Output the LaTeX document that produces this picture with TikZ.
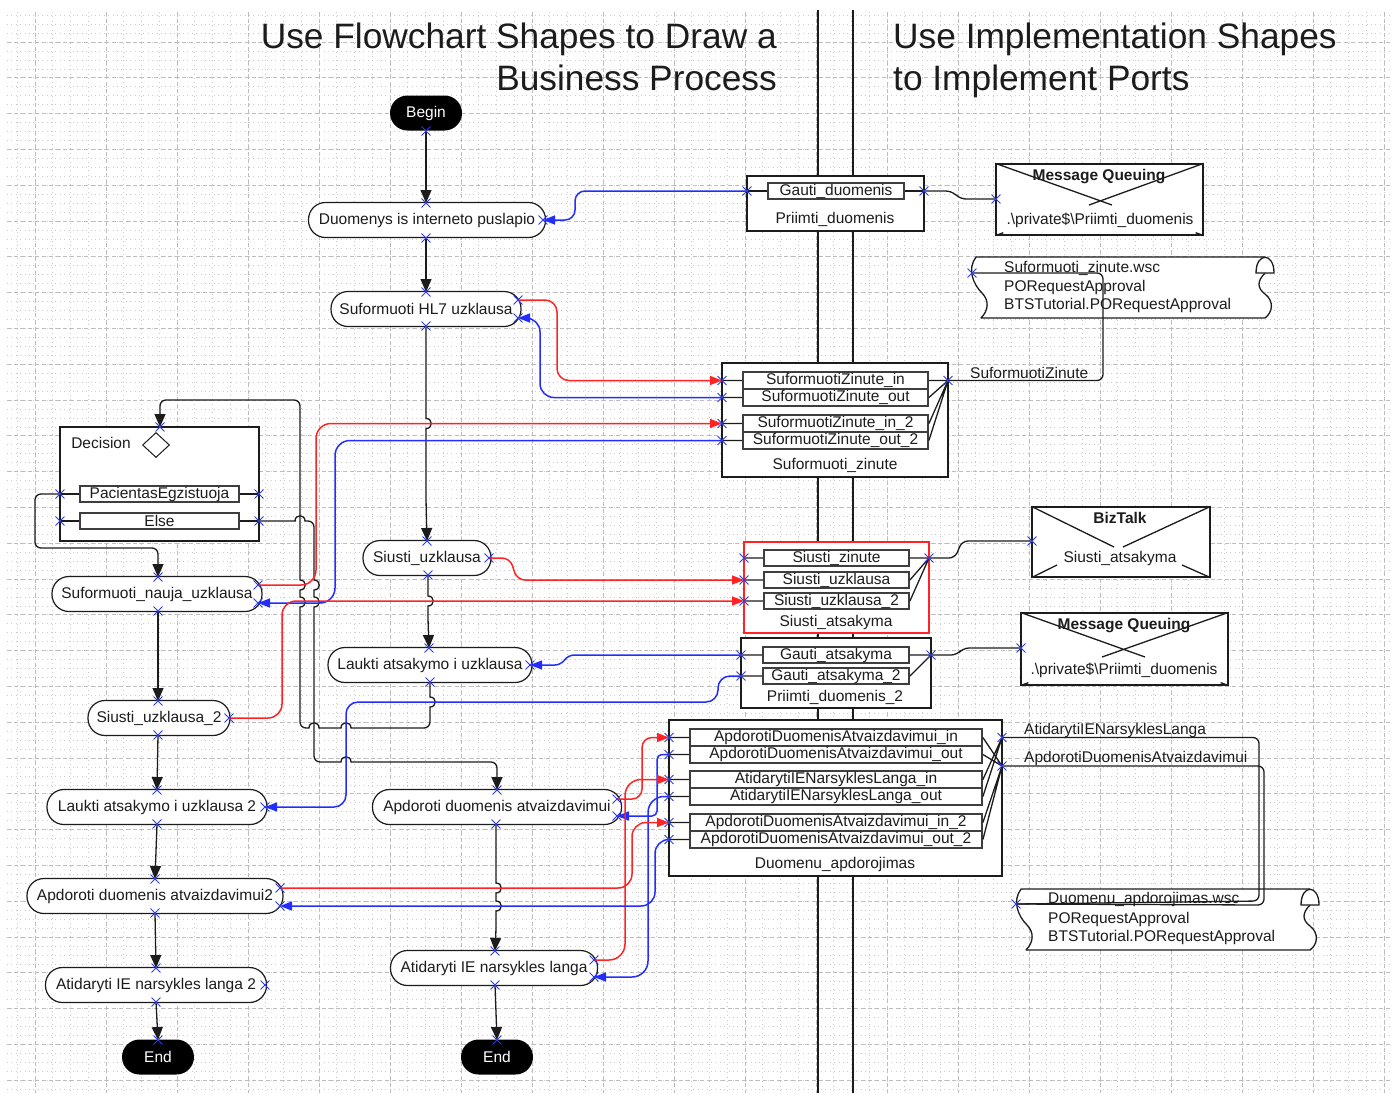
\documentclass[tikz,border=0pt]{standalone}
\usepackage{fontspec}
\setmainfont{Liberation Sans}
\usetikzlibrary{arrows.meta,shapes.misc,shapes.geometric}
\pgfdeclarelayer{bg}
\pgfdeclarelayer{fg}
\pgfsetlayers{bg,main,fg}

\definecolor{cred}{RGB}{255,35,35}
\definecolor{cblue}{RGB}{35,45,255}
\definecolor{pmark}{RGB}{45,60,230}
\definecolor{ink}{RGB}{28,28,28}

\newcommand\dfont{\fontsize{15.5}{18}\selectfont}
\newcommand\tfont{\fontsize{35.3}{42}\selectfont}

% small line jumps where connectors cross
\newcommand\hopdn[2]{[sharp corners] -- (#1,#2-5) .. controls (#1+7,#2-5) and (#1+7,#2+5) .. (#1,#2+5) [rounded corners=6pt]}
\newcommand\hopup[2]{[sharp corners] -- (#1,#2+5) .. controls (#1+7,#2+5) and (#1+7,#2-5) .. (#1,#2-5) [rounded corners=6pt]}
\newcommand\hopr[2]{[sharp corners] -- (#1-5,#2) .. controls (#1-5,#2-7) and (#1+5,#2-7) .. (#1+5,#2) [rounded corners=6pt]}
\newcommand\hopl[2]{[sharp corners] -- (#1+5,#2) .. controls (#1+5,#2-7) and (#1-5,#2-7) .. (#1-5,#2) [rounded corners=6pt]}

\tikzset{
  flow/.style={draw=ink, line width=1.2pt, fill=white, rounded corners=17pt, minimum height=35pt, inner sep=0pt, font=\dfont, text=ink},
  term/.style={fill=black, rounded corners=17.5pt, minimum width=72pt, minimum height=35pt, inner sep=0pt, font=\dfont, text=white},
  ibox/.style={draw=ink, line width=1.3pt, fill=white, inner sep=0pt},
  irow/.style={draw=ink!85, line width=1.8pt, fill=white, minimum height=16pt, inner sep=0pt, font=\dfont, text=ink},
  lbl/.style={font=\dfont, text=ink, inner sep=0pt},
  blbl/.style={font=\dfont\bfseries, text=ink, inner sep=0pt},
  portx/.style={cross out, draw=pmark, minimum size=8pt, inner sep=0pt, line width=0.9pt},
  flowline/.style={draw=ink, line width=1.3pt, rounded corners=6pt},
  stub/.style={draw=ink, line width=1.3pt},
  arrowk/.style={-{Triangle[length=13pt,width=11pt]}},
  carrow/.style={-{Triangle[length=12pt,width=9pt]}},
  redline/.style={draw=cred, line width=1.5pt},
  blueline/.style={draw=cblue, line width=1.5pt},
  title/.style={font=\tfont, text=ink, inner sep=0pt},
  lane/.style={draw=ink, line width=2pt},
  gmajor/.style={draw=black!26, line width=0.7pt, dash pattern=on 4pt off 3pt},
  gminor/.style={draw=black!20, line width=0.7pt, dash pattern=on 0.8pt off 3.6pt},
  tape/.pic={
    \fill[white] (0,0) -- (289,0) -- (289,16) .. controls (281,24) and (281,31) .. (289,37)
      .. controls (298,44) and (297,55) .. (289,61) -- (5,61) .. controls (13,53) and (13,43) .. (6,36)
      .. controls (-3,27) and (-9,12) .. (0,0) -- cycle;
    \draw[draw=ink, line width=1.3pt, line join=round] (289,16) .. controls (281,24) and (281,31) .. (289,37)
      .. controls (298,44) and (297,55) .. (289,61) -- (5,61) .. controls (13,53) and (13,43) .. (6,36)
      .. controls (-3,27) and (-9,12) .. (0,0) -- (289,0);
    \draw[draw=ink, line width=1.3pt, fill=white] (280,16) .. controls (280,-5) and (298,-5) .. (298,16) -- cycle;
  }
}

\begin{document}
\begin{tikzpicture}[x=1pt, y=-1pt]
\useasboundingbox (0,0) rectangle (1396,1093);

% ---------- drawing sheet: grid and lane separators ----------
\begin{pgfonlayer}{bg}
  \fill[white] (0,0) rectangle (1396,1093);
  \foreach \k in {-1,...,76} \draw[gminor] ({35+17.75*\k},12) -- ({35+17.75*\k},1093);
  \foreach \k in {-3,...,117} \draw[gminor] (7,{42+8.95*\k}) -- (1390,{42+8.95*\k});
  \foreach \k in {0,...,19} \draw[gmajor] ({35+71*\k},12) -- ({35+71*\k},1093);
  \foreach \k in {0,...,29} \draw[gmajor] (7,{42+35.8*\k}) -- (1390,{42+35.8*\k});
  \draw[lane] (818,10) -- (818,1093);
  \draw[lane] (853,10) -- (853,1093);
\end{pgfonlayer}

% ---------- headings ----------
\node[title, anchor=base east] (ttl1a) at (777,48) {Use Flowchart Shapes to Draw a};
\node[title, anchor=base east] (ttl1b) at (777,90) {Business Process};
\node[title, anchor=base west] (ttl2a) at (893,48) {Use Implementation Shapes};
\node[title, anchor=base west] (ttl2b) at (893,90) {to Implement Ports};

% ---------- business process shapes ----------
\node[term] (begin) at (426,113) {Begin};
\node[flow, minimum width=237pt] (duom) at (427,220) {Duomenys is interneto puslapio};
\node[flow, minimum width=190pt] (hl7) at (426,309) {Suformuoti HL7 uzklausa};
\node[flow, minimum width=128pt] (siu) at (427,558) {Siusti\_uzklausa};
\node[flow, minimum width=204pt] (lauk) at (430,665) {Laukti atsakymo i uzklausa};
\node[flow, minimum width=249pt] (apd) at (497,807) {Apdoroti duomenis atvaizdavimui};
\node[flow, minimum width=207pt] (atid) at (494,968) {Atidaryti IE narsykles langa};
\node[term] (endb) at (497,1057) {End};

\node[flow, minimum width=210pt] (nauj) at (157,594) {Suformuoti\_nauja\_uzklausa};
\node[flow, minimum width=142pt] (siu2) at (159,718) {Siusti\_uzklausa\_2};
\node[flow, minimum width=220pt] (lauk2) at (157,807) {Laukti atsakymo i uzklausa 2};
\node[flow, minimum width=256pt] (apd2) at (155,896) {Apdoroti duomenis atvaizdavimui2};
\node[flow, minimum width=221pt] (atid2) at (156,985) {Atidaryti IE narsykles langa 2};
\node[term] (enda) at (158,1057) {End};

% decision block
\node[ibox, minimum width=199pt, minimum height=114pt] (dec) at (159.5,484) {};
\node[lbl] (dect) at (101,443) {Decision};
\node[diamond, draw=ink, line width=1pt, minimum width=27pt, minimum height=25pt, inner sep=0pt, fill=white] (decd) at (156,445) {};
\node[irow, minimum width=159pt] (pac) at (159.5,494) {PacientasEgzistuoja};
\node[irow, minimum width=159pt] (els) at (159.5,521) {Else};

% ---------- port implementation shapes ----------
\node[ibox, minimum width=177pt, minimum height=55pt] (prd) at (835.5,203.5) {};
\node[irow, minimum width=136pt] (gd) at (836,191) {Gauti\_duomenis};
\node[lbl] (prdl) at (835,219) {Priimti\_duomenis};

\node[ibox, minimum width=207pt, minimum height=71pt] (mq1) at (1099.5,199.5) {};
\draw[stub] (mq1.north west) -- (1112,205) (mq1.north east) -- (1089,205)
  (mq1.south west) -- ++(8,-3) (mq1.south east) -- ++(-8,-3);
\node[blbl] (mq1t) at (1099,177) {Message Queuing};
\node[lbl] (mq1s) at (1100,220) {.\textbackslash private\$\textbackslash Priimti\_duomenis};

\pic (ws1) at (976,257) {tape};
\node[lbl, anchor=west] (ws1a) at (1004,268) {Suformuoti\_zinute.wsc};
\node[lbl, anchor=west] (ws1b) at (1004,287) {PORequestApproval};
\node[lbl, anchor=west] (ws1c) at (1004,305) {BTSTutorial.PORequestApproval};

\node[ibox, minimum width=226pt, minimum height=114pt] (sz) at (835,420) {};
\node[irow, minimum width=185pt, minimum height=17pt] (sz1) at (835.5,380.5) {SuformuotiZinute\_in};
\node[irow, minimum width=185pt, minimum height=17pt] (sz2) at (835.5,397.5) {SuformuotiZinute\_out};
\node[irow, minimum width=185pt, minimum height=17pt] (sz3) at (835.5,423.5) {SuformuotiZinute\_in\_2};
\node[irow, minimum width=185pt, minimum height=17pt] (sz4) at (835.5,440.5) {SuformuotiZinute\_out\_2};
\node[lbl] (szl) at (835,465) {Suformuoti\_zinute};

\node[ibox, draw=cred, minimum width=185pt, minimum height=91pt] (sa) at (836.5,587.5) {};
\node[irow, minimum width=145pt] (sa1) at (836.5,558) {Siusti\_zinute};
\node[irow, minimum width=145pt] (sa2) at (836.5,580) {Siusti\_uzklausa};
\node[irow, minimum width=145pt] (sa3) at (836.5,601) {Siusti\_uzklausa\_2};
\node[lbl] (sal) at (836,622) {Siusti\_atsakyma};

\node[ibox, minimum width=178pt, minimum height=70pt] (biz) at (1121,542) {};
\draw[stub] (biz.north west) -- (1114,547) (biz.north east) -- (1123,547)
  (biz.south west) -- (1057,565) (biz.south east) -- (1182,565);
\node[blbl] (bizt) at (1120,518) {BizTalk};
\node[lbl] (bizs) at (1120,558) {Siusti\_atsakyma};

\node[ibox, minimum width=190pt, minimum height=70pt] (pd) at (836,673) {};
\node[irow, minimum width=146pt] (pd1) at (836,655) {Gauti\_atsakyma};
\node[irow, minimum width=146pt] (pd2) at (836,676) {Gauti\_atsakyma\_2};
\node[lbl] (pdl) at (835,697) {Priimti\_duomenis\_2};

\node[ibox, minimum width=207pt, minimum height=72pt] (mq2) at (1124.5,649) {};
\draw[stub] (mq2.north west) -- (1145,657) (mq2.north east) -- (1102,657)
  (mq2.south west) -- ++(8,-3) (mq2.south east) -- ++(-8,-3);
\node[blbl] (mq2t) at (1124,626) {Message Queuing};
\node[lbl] (mq2s) at (1124,670) {.\textbackslash private\$\textbackslash Priimti\_duomenis};

\node[ibox, minimum width=333pt, minimum height=156pt] (da) at (835.5,798) {};
\node[irow, minimum width=292pt, minimum height=17pt] (da1) at (836,737.5) {ApdorotiDuomenisAtvaizdavimui\_in};
\node[irow, minimum width=292pt, minimum height=17pt] (da2) at (836,754.5) {ApdorotiDuomenisAtvaizdavimui\_out};
\node[irow, minimum width=292pt, minimum height=17pt] (da3) at (836,779.5) {AtidarytiIENarsyklesLanga\_in};
\node[irow, minimum width=292pt, minimum height=17pt] (da4) at (836,796.5) {AtidarytiIENarsyklesLanga\_out};
\node[irow, minimum width=292pt, minimum height=17pt] (da5) at (836,822.5) {ApdorotiDuomenisAtvaizdavimui\_in\_2};
\node[irow, minimum width=292pt, minimum height=17pt] (da6) at (836,839.5) {ApdorotiDuomenisAtvaizdavimui\_out\_2};
\node[lbl] (dal) at (835,864) {Duomenu\_apdorojimas};

\pic (ws2) at (1021,889) {tape};
\node[lbl, anchor=west] (ws2a) at (1048,899) {Duomenu\_apdorojimas.wsc};
\node[lbl, anchor=west] (ws2b) at (1048,919) {PORequestApproval};
\node[lbl, anchor=west] (ws2c) at (1048,937) {BTSTutorial.PORequestApproval};

% connector names
\node[lbl, anchor=west] (lsz) at (970,373) {SuformuotiZinute};
\node[lbl, anchor=west] (lat) at (1024,730) {AtidarytiIENarsyklesLanga};
\node[lbl, anchor=west] (lap) at (1024,758) {ApdorotiDuomenisAtvaizdavimui};

% ---------- connection points ----------
\begin{pgfonlayer}{fg}
  \node[portx] (begin-b) at (426,131) {};
  \node[portx] (duom-t) at (426,203) {};
  \node[portx] (duom-b) at (426,238) {};
  \node[portx] (duom-r) at (543,220) {};
  \node[portx] (hl7-t) at (426,292) {};
  \node[portx] (hl7-b) at (426,326) {};
  \node[portx] (hl7-rt) at (518,300) {};
  \node[portx] (hl7-rb) at (518,318) {};
  \node[portx] (siu-t) at (427,541) {};
  \node[portx] (siu-b) at (428,575) {};
  \node[portx] (siu-r) at (489,558) {};
  \node[portx] (lauk-t) at (429,648) {};
  \node[portx] (lauk-b) at (430,682) {};
  \node[portx] (lauk-r) at (530,665) {};
  \node[portx] (apd-t) at (497,790) {};
  \node[portx] (apd-b) at (496,824) {};
  \node[portx] (apd-rt) at (617,799) {};
  \node[portx] (apd-rb) at (617,816) {};
  \node[portx] (atid-t) at (495,951) {};
  \node[portx] (atid-b) at (495,985) {};
  \node[portx] (atid-rt) at (594,960) {};
  \node[portx] (atid-rb) at (594,977) {};
  \node[portx] (endb-t) at (497,1040) {};
  \node[portx] (nauj-t) at (158,577) {};
  \node[portx] (nauj-b) at (158,611) {};
  \node[portx] (nauj-rt) at (258,585) {};
  \node[portx] (nauj-rb) at (258,603) {};
  \node[portx] (siu2-t) at (158,701) {};
  \node[portx] (siu2-b) at (158,735) {};
  \node[portx] (siu2-r) at (229,718) {};
  \node[portx] (lauk2-t) at (157,790) {};
  \node[portx] (lauk2-b) at (157,824) {};
  \node[portx] (lauk2-r) at (265,807) {};
  \node[portx] (apd2-t) at (155,879) {};
  \node[portx] (apd2-b) at (155,913) {};
  \node[portx] (apd2-rt) at (280,888) {};
  \node[portx] (apd2-rb) at (280,906) {};
  \node[portx] (atid2-t) at (156,968) {};
  \node[portx] (atid2-b) at (156,1002) {};
  \node[portx] (atid2-r) at (265,985) {};
  \node[portx] (enda-t) at (158,1040) {};
  \node[portx] (dec-t) at (160,427) {};
  \node[portx] (pac-l) at (60,494) {};
  \node[portx] (pac-r) at (259,494) {};
  \node[portx] (els-l) at (60,521) {};
  \node[portx] (els-r) at (259,521) {};
  \node[portx] (prd-l) at (747,191) {};
  \node[portx] (prd-r) at (924,191) {};
  \node[portx] (mq1-p) at (996,199) {};
  \node[portx] (ws1-p) at (972,273) {};
  \node[portx] (sz-l1) at (722,380.5) {};
  \node[portx] (sz-l2) at (722,397.5) {};
  \node[portx] (sz-l3) at (722,423.5) {};
  \node[portx] (sz-l4) at (722,440.5) {};
  \node[portx] (sz-r) at (948,380.5) {};
  \node[portx] (sa-l1) at (744,558) {};
  \node[portx] (sa-l2) at (744,580) {};
  \node[portx] (sa-l3) at (744,601) {};
  \node[portx] (sa-r) at (929,558) {};
  \node[portx] (biz-p) at (1032,541) {};
  \node[portx] (pd-l1) at (741,655) {};
  \node[portx] (pd-l2) at (741,676) {};
  \node[portx] (pd-r) at (931,655) {};
  \node[portx] (mq2-p) at (1021,648) {};
  \node[portx] (da-l1) at (669,737.5) {};
  \node[portx] (da-l2) at (669,754.5) {};
  \node[portx] (da-l3) at (669,779.5) {};
  \node[portx] (da-l4) at (669,796.5) {};
  \node[portx] (da-l5) at (669,822.5) {};
  \node[portx] (da-l6) at (669,839.5) {};
  \node[portx] (da-r1) at (1002,737.5) {};
  \node[portx] (da-r2) at (1002,766) {};
  \node[portx] (ws2-p) at (1016,904) {};
\end{pgfonlayer}

% ---------- stubs from ports to operations ----------
\draw[stub] (pac-l.center) -- (pac.west) (pac.east) -- (pac-r.center)
  (els-l.center) -- (els.west) (els.east) -- (els-r.center);
\draw[stub] (prd-l.center) -- (gd.west) (gd.east) -- (prd-r.center);
\draw[stub] (sz-l1.center) -- (sz1.west) (sz-l2.center) -- (sz2.west)
  (sz-l3.center) -- (sz3.west) (sz-l4.center) -- (sz4.west)
  (sz1.east) -- (sz-r.center) (sz2.east) -- (sz-r.center)
  (sz3.east) -- (sz-r.center) (sz4.east) -- (sz-r.center);
\draw[stub] (sa-l1.center) -- (sa1.west) (sa-l2.center) -- (sa2.west) (sa-l3.center) -- (sa3.west)
  (sa1.east) -- (sa-r.center) (sa2.east) -- (sa-r.center) (sa3.east) -- (sa-r.center);
\draw[stub] (pd-l1.center) -- (pd1.west) (pd-l2.center) -- (pd2.west)
  (pd1.east) -- (pd-r.center) (pd2.east) -- (pd-r.center);
\draw[stub] (da-l1.center) -- (da1.west) (da-l2.center) -- (da2.west) (da-l3.center) -- (da3.west)
  (da-l4.center) -- (da4.west) (da-l5.center) -- (da5.west) (da-l6.center) -- (da6.west)
  (da1.east) -- (da-r2.center) (da2.east) -- (da-r2.center)
  (da3.east) -- (da-r1.center) (da4.east) -- (da-r1.center)
  (da5.east) -- (da-r2.center) (da6.east) -- (da-r2.center);

% ---------- process flow ----------
\draw[flowline, arrowk] (begin-b.center) -- (duom-t.center);
\draw[flowline, arrowk] (duom-b.center) -- (hl7-t.center);
\draw[flowline, arrowk] (hl7-b.center) -- (426,400) \hopdn{426}{423.5} -- (426,500) -- (siu-t.center);
\draw[flowline, arrowk] (siu-b.center) -- (428,590) \hopdn{428}{601} -- (428,620) -- (lauk-t.center);
\draw[flowline, arrowk] (lauk-b.center) -- (430,690) \hopdn{430}{702} -- (430,728) -- (370,728)
  \hopl{346}{728} -- (330,728) \hopl{314}{728} -- (300,728) -- (300,640) \hopup{300}{602} \hopup{300}{585}
  -- (300,560) -- (300,400) -- (160,400) -- (dec-t.center);
\draw[flowline, arrowk] (els-r.center) -- (290,521) \hopr{300}{521} -- (314,521) -- (314,560)
  \hopdn{314}{585} \hopdn{314}{602} -- (314,762) -- (330,762) \hopr{346}{762} -- (370,762) -- (497,762) -- (apd-t.center);
\draw[flowline, arrowk] (pac-l.center) -- (35,494) -- (35,548) -- (158,548) -- (nauj-t.center);
\draw[flowline, arrowk] (nauj-b.center) -- (siu2-t.center);
\draw[flowline, arrowk] (siu2-b.center) -- (lauk2-t.center);
\draw[flowline, arrowk] (lauk2-b.center) -- (apd2-t.center);
\draw[flowline, arrowk] (apd2-b.center) -- (atid2-t.center);
\draw[flowline, arrowk] (atid2-b.center) -- (enda-t.center);
\draw[flowline, arrowk] (apd-b.center) -- (496,870) \hopdn{496}{888} \hopdn{496}{906} -- (496,930) -- (atid-t.center);
\draw[flowline, arrowk] (atid-b.center) -- (endb-t.center);

% ---------- port bindings ----------
\draw[flowline] (prd-r.center) -- (952,191) -- (960,199) -- (mq1-p.center);
\draw[flowline] (sz-r.center) -- (1103,380.5) -- (1103,273) -- (ws1-p.center);
\draw[flowline] (sa-r.center) -- (955,558) -- (962,541) -- (biz-p.center);
\draw[flowline] (pd-r.center) -- (957,655) -- (963,648) -- (mq2-p.center);
\draw[flowline] (da-r1.center) -- (1259,737.5) -- (1259,901) -- (ws2-p.center);
\draw[flowline] (da-r2.center) -- (1264,766) -- (1264,905) -- (ws2-p.center);

% ---------- message flows ----------
\draw[blueline, rounded corners=10pt, carrow] (prd-l.center) -- (575,191) -- (575,220) -- (duom-r.center);
\draw[redline, rounded corners=12pt, carrow] (hl7-rt.center) -- (557,300) -- (557,380.5) -- (sz-l1.center);
\draw[blueline, rounded corners=14pt, carrow] (sz-l2.center) -- (540,397.5) -- (540,318) -- (hl7-rb.center);
\draw[redline, rounded corners=15pt, carrow] (nauj-rt.center) -- (316,585) -- (316,423.5) -- (sz-l3.center);
\draw[blueline, rounded corners=15pt, carrow] (sz-l4.center) -- (335,440.5) -- (335,603) -- (nauj-rb.center);
\draw[redline, rounded corners=8pt, carrow] (siu-r.center) -- (510,558) -- (517,580) -- (sa-l2.center);
\draw[redline, rounded corners=14pt, carrow] (siu2-r.center) -- (282,718) -- (282,601) -- (sa-l3.center);
\draw[blueline, rounded corners=6pt, carrow] (pd-l1.center) -- (568,655) -- (561,665) -- (lauk-r.center);
\draw[blueline, rounded corners=12pt, carrow] (pd-l2.center) -- (718,676) -- (718,702) -- (346,702) -- (346,807) -- (lauk2-r.center);
\draw[redline, rounded corners=10pt, carrow] (apd-rt.center) -- (642,799) -- (642,737.5) -- (da-l1.center);
\draw[blueline, rounded corners=5pt, carrow] (da-l2.center) -- (657,754.5) -- (657,816) -- (apd-rb.center);
\draw[redline, rounded corners=16pt, carrow] (atid-rt.center) -- (625,960) -- (625,779.5) -- (da-l3.center);
\draw[blueline, rounded corners=16pt, carrow] (da-l4.center) -- (648,796.5) -- (648,977) -- (atid-rb.center);
\draw[redline, rounded corners=14pt, carrow] (apd2-rt.center) -- (632,888) -- (632,822.5) -- (da-l5.center);
\draw[blueline, rounded corners=14pt, carrow] (da-l6.center) -- (655,839.5) -- (655,906) -- (apd2-rb.center);
\end{tikzpicture}
\end{document}
